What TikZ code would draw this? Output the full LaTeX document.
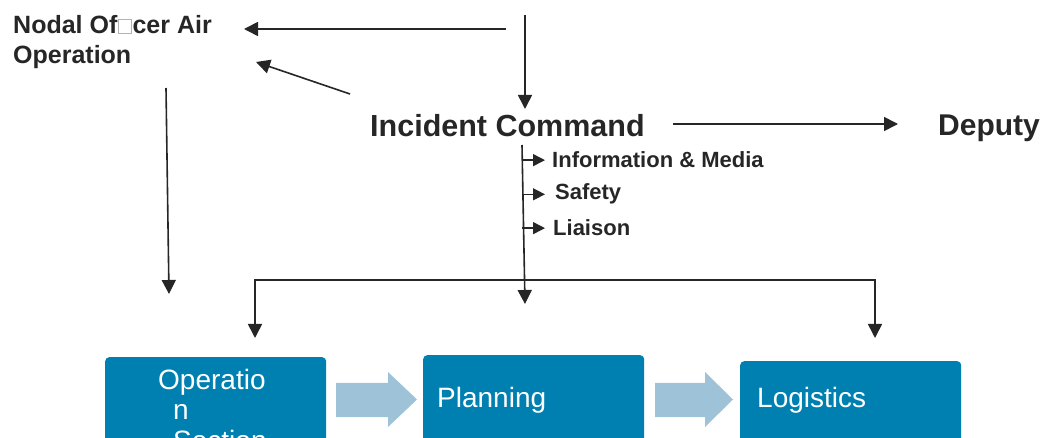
\documentclass[tikz,border=0pt]{standalone}
\usepackage{fontspec}
\setmainfont{Liberation Sans}
\usetikzlibrary{arrows.meta}
\definecolor{boxblue}{HTML}{0080B1}
\definecolor{chevblue}{HTML}{9EC3D8}
\definecolor{inkgray}{HTML}{262626}
\newcommand{\missingglyph}{\kern1pt{\color{gray!60}\fboxsep=0pt\fboxrule=0.6pt\fbox{\rule{0pt}{14pt}\hspace{12pt}}}\kern1pt}
\tikzset{
  lbl/.style={text=inkgray,inner sep=0pt},
  conn/.style={draw=inkgray,line width=1.6pt,-{Triangle[length=14pt,width=14pt]}},
  tick/.style={draw=inkgray,line width=1.4pt,-{Triangle[length=12pt,width=12pt]}},
  sect/.style={fill=boxblue,rounded corners=4pt,anchor=north west,minimum width=221pt,minimum height=110pt,inner sep=0pt},
  secttext/.style={text=white,inner sep=0pt,anchor=base west,font=\fontsize{28}{30}\selectfont},
}
\begin{document}
\begin{tikzpicture}[x=1pt,y=-1pt]
\useasboundingbox (0,0) rectangle (1042,438);
\clip (0,0) rectangle (1042,438);
% labels
\node[lbl,anchor=north west,align=left,font=\fontsize{25}{30}\selectfont\bfseries] (nodal) at (13,15) {Nodal Of\missingglyph cer Air\\Operation};
\node[lbl,anchor=base west,font=\fontsize{30.5}{36}\selectfont\bfseries] (ic) at (370,137) {Incident Command};
\node[lbl,anchor=base west,font=\fontsize{30}{36}\selectfont\bfseries] (deputy) at (938,136) {Deputy};
\node[lbl,anchor=base west,font=\fontsize{22}{26}\selectfont\bfseries] (info) at (552,168) {Information \& Media};
\node[lbl,anchor=base west,font=\fontsize{22}{26}\selectfont\bfseries] (safety) at (555,200) {Safety};
\node[lbl,anchor=base west,font=\fontsize{22}{26}\selectfont\bfseries] (liaison) at (553,236) {Liaison};
% sections
\node[sect] (ops) at (105,357) {};
\node[sect] (plan) at (423,355) {};
\node[sect] (logi) at (740,361) {};
\node[secttext] (opst) at (158,390) {Operatio};
\node[secttext] (opsn) at (173,420) {n};
\node[secttext] (opss) at (173,450) {Section};
\node[secttext] (plant) at (437,407) {Planning};
\node[secttext] (logit) at (757,407) {Logistics};
\fill[chevblue] (336,383) -- (388,383) -- (388,372) -- (417,399.5) -- (388,427) -- (388,417) -- (336,417) -- cycle;
\fill[chevblue] (655,383) -- (705,383) -- (705,372) -- (733,399.5) -- (705,427) -- (705,417) -- (655,417) -- cycle;
% connectors
\coordinate (topl) at (506,29);
\coordinate (nodalr) at (244,29);
\coordinate (topc) at (525,15);
\coordinate (ictop) at (525,109);
\coordinate (diag) at (350,94);
\coordinate (nodalb) at (256,62);
\coordinate (icr) at (673,124);
\coordinate (depl) at (898,124);
\coordinate (nodaldn) at (166,88);
\coordinate (opsfar) at (169,294);
\coordinate (icdn) at (522,145);
\coordinate (midtip) at (525,304);
\coordinate (barl) at (255,280);
\coordinate (barr) at (875,280);
\coordinate (opsin) at (255,338);
\coordinate (logiin) at (875,338);
\draw[conn] (topl) -- (nodalr);
\draw[conn] (topc) -- (ictop);
\draw[conn] (diag) -- (nodalb);
\draw[conn] (icr) -- (depl);
\draw[conn] (nodaldn) -- (opsfar);
\draw[conn] (icdn) -- (midtip);
\draw[tick,shorten >=7pt] (icdn |- info.west) -- (info.west);
\draw[tick,shorten >=10pt] (icdn |- safety.west) -- (safety.west);
\draw[tick,shorten >=8pt] (icdn |- liaison.west) -- (liaison.west);
\draw[conn,{Triangle[length=14pt,width=14pt]}-{Triangle[length=14pt,width=14pt]}] (opsin) -- (barl) -- (barr) -- (logiin);
\end{tikzpicture}
\end{document}
